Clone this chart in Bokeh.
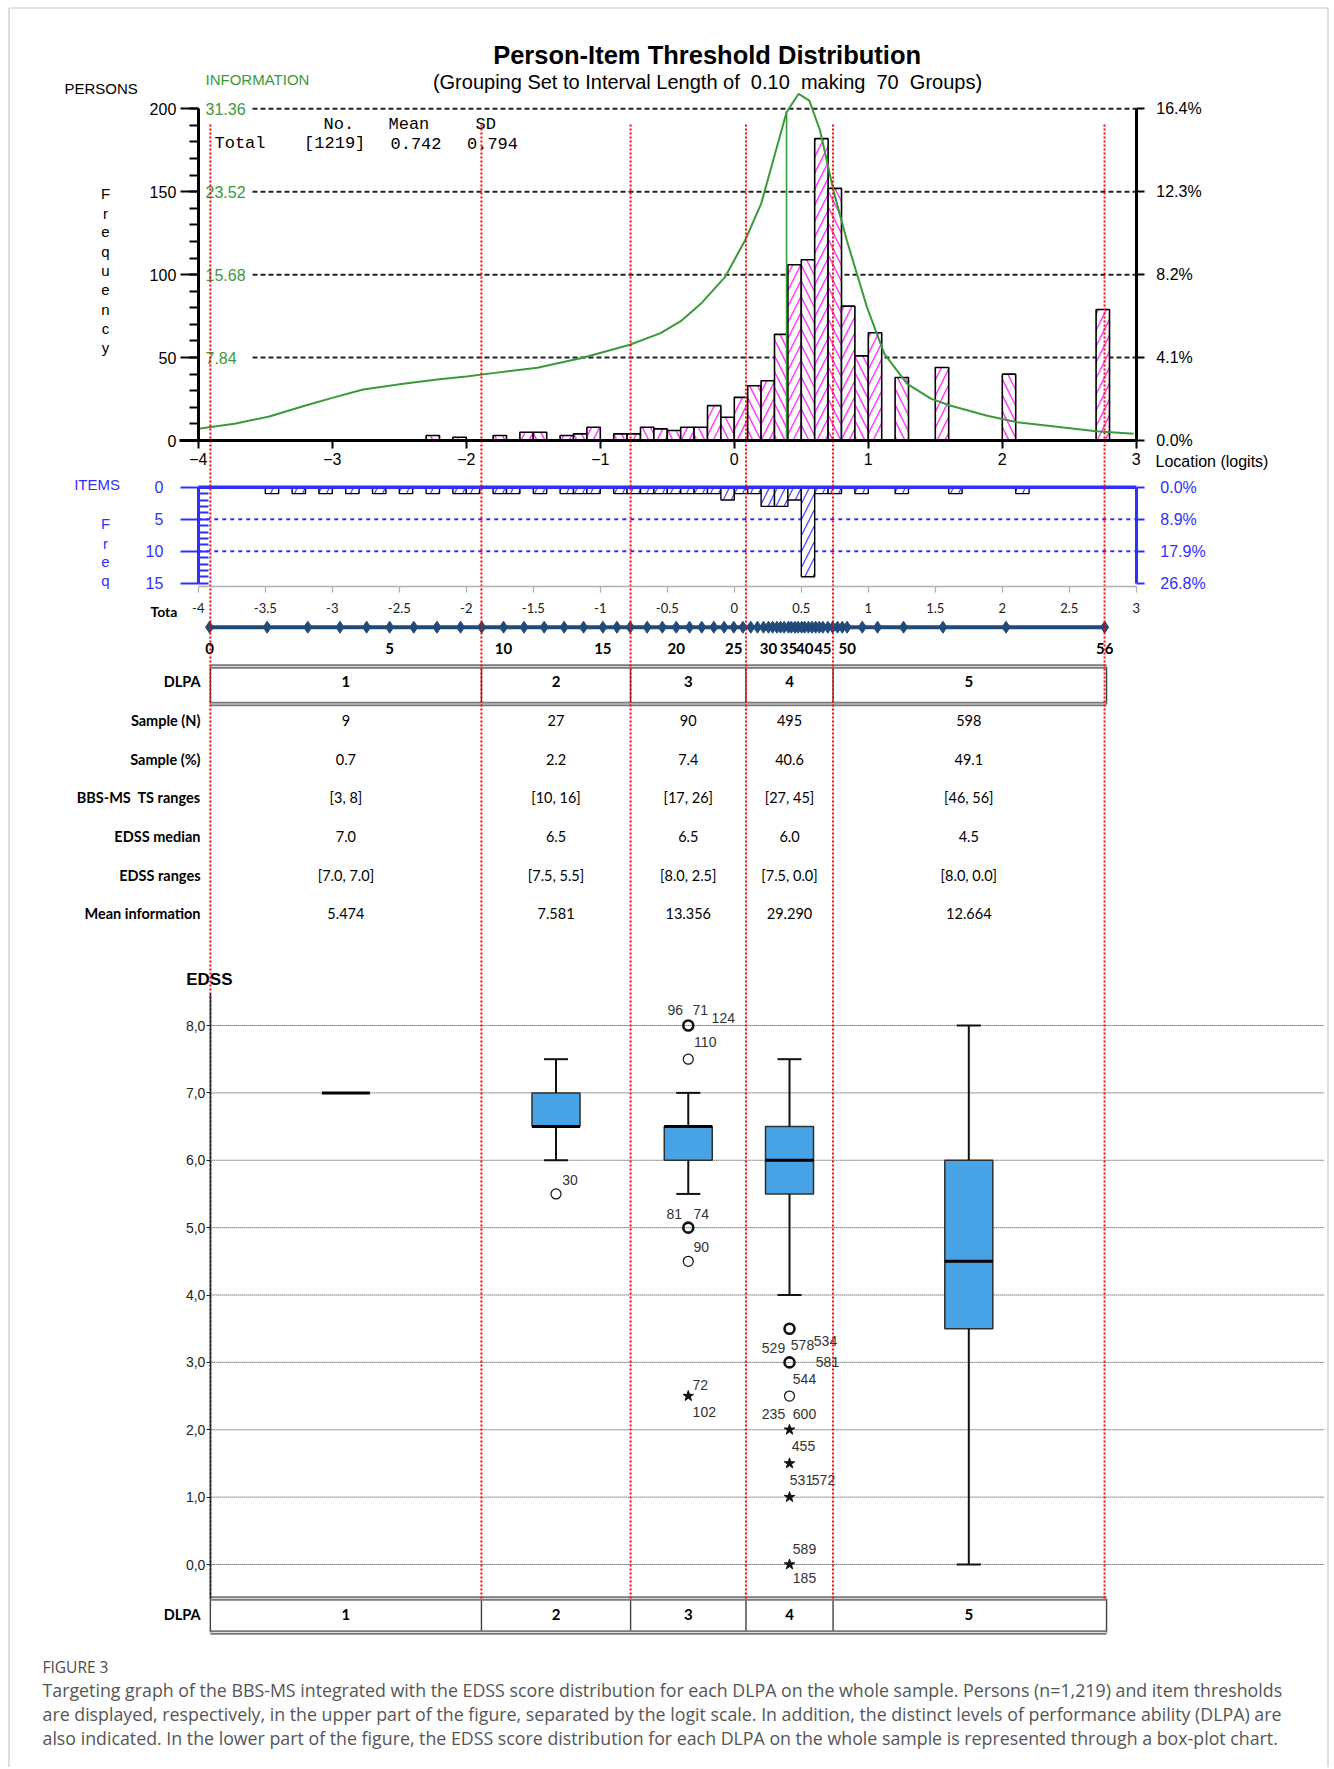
import numpy as np
from bokeh.plotting import figure
from bokeh.models import Range1d, LinearAxis, FixedTicker, NumeralTickFormatter, ColumnDataSource
from bokeh.core.properties import value
from bokeh.embed import file_html
from bokeh.resources import INLINE

# ====================== DATA ======================
n_persons = 1219
person_mean = 0.742
person_sd = 0.794
n_thresholds = 56
info_max = 31.36

# persons histogram (lower edge of 0.1-logit class, frequency)
person_bins = [-2.3, -2.1, -1.8, -1.6, -1.5, -1.3, -1.2, -1.1, -0.9, -0.8, -0.7, -0.6, -0.5, -0.4, -0.3,
               -0.2, -0.1, 0.0, 0.1, 0.2, 0.3, 0.4, 0.5, 0.6, 0.7, 0.8, 0.9, 1.0, 1.2, 1.5, 2.0, 2.7]
person_counts = [3, 2, 3, 5, 5, 3, 4, 8, 4, 4, 8, 7, 6, 8, 8,
                 21, 14, 26, 33, 36, 64, 106, 109, 182, 152, 81, 51, 65, 38, 44, 40, 79]

# test information function
info_x = [-4.0, -3.73, -3.47, -3.2, -3.0, -2.77, -2.47, -2.2, -2.0, -1.8, -1.47, -1.13, -0.78, -0.55, -0.40,
          -0.25, -0.07, 0.08, 0.2, 0.29, 0.39, 0.48, 0.56, 0.64, 0.74, 0.84, 0.99, 1.12, 1.29, 1.47,
          1.61, 1.88, 2.11, 2.44, 2.7, 2.98]
info_y = [1.10, 1.58, 2.27, 3.31, 4.03, 4.82, 5.36, 5.80, 6.05, 6.37, 6.87, 7.82, 9.05, 10.15, 11.28,
          12.92, 15.44, 18.91, 22.37, 26.47, 31.04, 32.78, 32.14, 29.31, 23.64, 18.91, 12.61, 8.19, 5.36, 3.94,
          3.31, 2.36, 1.73, 1.26, 0.88, 0.63]
info_marker_x = 0.39
info_marker_top = 31.0

# item thresholds histogram
item_bins = [-3.5, -3.3, -3.1, -2.9, -2.7, -2.5, -2.3, -2.1, -2.0, -1.8, -1.7, -1.5, -1.3, -1.2, -1.1,
             -0.9, -0.8, -0.7, -0.6, -0.5, -0.4, -0.3, -0.2, -0.1, 0.0, 0.1, 0.2, 0.3, 0.4, 0.5,
             0.6, 0.7, 0.9, 1.2, 1.6, 2.1]
item_counts = [1, 1, 1, 1, 1, 1, 1, 1, 1, 1, 1, 1, 1, 1, 1,
               1, 1, 1, 1, 1, 1, 1, 1, 2, 1, 1, 3, 3, 2, 14,
               1, 1, 1, 1, 1, 1]

# raw total score (0..56) -> logit location
raw_logit = [-3.916, -3.486, -3.183, -2.943, -2.744, -2.572, -2.392, -2.219, -2.043, -1.885,
             -1.722, -1.569, -1.419, -1.270, -1.125, -0.981, -0.876, -0.777, -0.650, -0.537,
             -0.433, -0.334, -0.243, -0.153, -0.076, -0.004, 0.064, 0.123, 0.173, 0.218,
             0.255, 0.286, 0.318, 0.345, 0.372, 0.404, 0.426, 0.453, 0.476, 0.503,
             0.525, 0.553, 0.580, 0.607, 0.634, 0.661, 0.698, 0.734, 0.770, 0.806,
             0.842, 0.955, 1.069, 1.263, 1.557, 2.028, 2.764]
raw_labels = [0, 5, 10, 15, 20, 25, 30, 35, 40, 45, 50, 56]
excel_ticks = [-4, -3.5, -3, -2.5, -2, -1.5, -1, -0.5, 0, 0.5, 1, 1.5, 2, 2.5, 3]

# DLPA
dlpa = ["1", "2", "3", "4", "5"]
dlpa_bounds = [-3.91, -1.887, -0.774, 0.087, 0.737, 2.763]
row_labels = ["Sample (N)", "Sample (%)", "BBS-MS  TS ranges", "EDSS median", "EDSS ranges", "Mean information"]
sample_n = ["9", "27", "90", "495", "598"]
sample_pct = ["0.7", "2.2", "7.4", "40.6", "49.1"]
ts_ranges = ["[3, 8]", "[10, 16]", "[17, 26]", "[27, 45]", "[46, 56]"]
edss_median_txt = ["7.0", "6.5", "6.5", "6.0", "4.5"]
edss_ranges = ["[7.0, 7.0]", "[7.5, 5.5]", "[8.0, 2.5]", "[7.5, 0.0]", "[8.0, 0.0]"]
mean_info = ["5.474", "7.581", "13.356", "29.290", "12.664"]

# EDSS box plots per DLPA
q1 = [7.0, 6.5, 6.0, 5.5, 3.5]
med = [7.0, 6.5, 6.5, 6.0, 4.5]
q3 = [7.0, 7.0, 6.5, 6.5, 6.0]
wlo = [7.0, 6.0, 5.5, 4.0, 0.0]
whi = [7.0, 7.5, 7.0, 7.5, 8.0]
out_group = [2, 3, 3, 3, 3, 4, 4, 4]
out_edss = [5.5, 8.0, 7.5, 5.0, 4.5, 3.5, 3.0, 2.5]
out_cases = [1, 3, 1, 2, 1, 2, 4, 1]
ext_group = [3, 4, 4, 4, 4]
ext_edss = [2.5, 2.0, 1.5, 1.0, 0.0]
lab_group = [2, 3, 3, 3, 3, 3, 3, 3, 3, 3, 4, 4, 4, 4, 4, 4, 4, 4, 4, 4, 4, 4]
lab_edss = [5.5, 8.0, 8.0, 8.0, 7.5, 5.0, 5.0, 4.5, 2.5, 2.5, 3.0, 3.0, 3.0, 3.0, 2.5, 2.0, 2.0, 1.5, 1.0, 1.0, 0.0, 0.0]
lab_text = ["30", "96", "71", "124", "110", "81", "74", "90", "72", "102",
            "529", "578", "534", "581", "544", "235", "600", "455", "531", "572", "589", "185"]
# label offsets (pixels) - layout only
lab_dx = [14, -13, 12, 35, 17, -14, 13, 13, 12, 16, -16, 13, 36, 38, 15, -16, 15, 14, 12, 34, 15, 15]
lab_dy = [-14, -16, -16, -8, -17, -14, -14, -14, -11, 16, -14, -17, -21, 0, -17, -16, -16, -17, -17, -17, -16, 13]

caption_title = "FIGURE 3"
caption_lines = [
    "Targeting graph of the BBS-MS integrated with the EDSS score distribution for each DLPA on the whole sample. Persons (n=1,219) and item thresholds",
    "are displayed, respectively, in the upper part of the figure, separated by the logit scale. In addition, the distinct levels of performance ability (DLPA) are",
    "also indicated. In the lower part of the figure, the EDSS score distribution for each DLPA on the whole sample is represented through a box-plot chart.",
]

# ====================== LAYOUT ======================
PAGE_L, PAGE_R, PAGE_T, PAGE_B = 0, 1332, 0, 1767
S = 134.0      # pixels per logit
X0 = 733.8     # page x of logit 0
NB = "\u00a0"


def lx(px):
    return (px - X0) / S


def yrange(v0, p0, v1, p1):
    k = (v1 - v0) / (p1 - p0)
    return Range1d(v0 + (PAGE_B - p0) * k, v0 + (PAGE_T - p0) * k)


p = figure(width=PAGE_R - PAGE_L, height=PAGE_B - PAGE_T,
           x_range=Range1d(lx(PAGE_L), lx(PAGE_R)), y_range=Range1d(PAGE_B, PAGE_T),
           x_axis_type=None, y_axis_type=None, toolbar_location=None, output_backend="svg",
           min_border=0, outline_line_color=None, background_fill_color="white",
           border_fill_color="white")
p.extra_x_ranges = {"px": Range1d(PAGE_L, PAGE_R)}
p.extra_y_ranges = {
    "freq": yrange(0, 440, 200, 108.3),
    "info": yrange(0, 440, info_max, 108.3),
    "items": yrange(0, 486.7, 10, 550.7),
    "edss": yrange(0, 1564, 8, 1025),
}

SANS = "Liberation Sans"
MONO = "Liberation Mono"
CAL = "Lato"
GREEN = "#3a9a3a"
BLUE = "#2f2fff"
RED = "#ff0000"


def txt(xs, ys, texts, size, color="black", font=SANS, style="normal", align="left",
        baseline="middle", xr="default", yr="default", **kw):
    src = ColumnDataSource(dict(x=list(xs), y=list(ys), text=list(texts)))
    p.text(x="x", y="y", text="text", source=src, text_font=value(font),
           text_font_size=value(f"{size}px"), text_font_style=style, text_color=color,
           text_align=align, text_baseline=baseline, x_range_name=xr, y_range_name=yr, **kw)


def style_axis(ax, color="black", size=16, font=SANS, lw=3):
    ax.axis_line_color = color
    ax.axis_line_width = lw
    ax.major_tick_line_color = color
    ax.minor_tick_line_color = color
    ax.major_tick_line_width = 2
    ax.minor_tick_line_width = 2
    ax.major_label_text_color = color
    ax.major_label_text_font = font
    ax.major_label_text_font_size = f"{size}px"
    ax.major_tick_in = 0
    ax.minor_tick_in = 0
    ax.minor_tick_out = 0


# outer frame of the figure panel
p.segment(x0=[8.5, 8.5, 1327.5], y0=[PAGE_B, 7.5, 7.5],
          x1=[8.5, 1327.5, 1327.5], y1=[7.5, 7.5, PAGE_B],
          x_range_name="px", line_color="#c8c8c8", line_width=1.2)

# ---------------- titles ----------------
txt([706.6], [54], ["Person-Item Threshold Distribution"], 25.5, style="bold", align="center", xr="px")
txt([707], [81], [f"(Grouping Set to Interval Length of{NB} 0.10{NB} making{NB} 70{NB} Groups)"], 20,
    align="center", xr="px")
txt([64], [88], ["PERSONS"], 15, xr="px")
txt([205], [79], ["INFORMATION"], 15, color=GREEN, xr="px")
txt([105] * 9, [193.3 + i * 19.2 for i in range(9)], list("Frequency"), 15, align="center", xr="px")

# ---------------- persons panel ----------------
grid_f = [50, 100, 150, 200]
p.segment(x0=[lx(252)] * 4, x1=[3] * 4, y0=grid_f, y1=grid_f, y_range_name="freq",
          line_color="#222222", line_width=2, line_dash="5 3")
txt([lx(205)] * 4, grid_f, [f"{f * info_max / 200:.2f}" for f in grid_f], 16, color=GREEN, yr="freq")

hp = ["\\" if i % 2 == 0 else "/" for i in range(len(person_bins))]
psrc = ColumnDataSource(dict(left=person_bins, right=[b + 0.1 for b in person_bins],
                             top=person_counts, hp=hp))
p.quad(left="left", right="right", bottom=0, top="top", source=psrc, y_range_name="freq",
       fill_color="white", line_color="black", line_width=1.6,
       hatch_pattern="hp", hatch_color="#ff40ff", hatch_scale=16, hatch_weight=1.5)

p.line(info_x, info_y, y_range_name="info", line_color=GREEN, line_width=2)
p.segment(x0=[info_marker_x], x1=[info_marker_x], y0=[0], y1=[info_marker_top], y_range_name="info",
          line_color=GREEN, line_width=1.6)

ax = LinearAxis(y_range_name="freq", fixed_location=-4, bounds=(0, 200),
                ticker=FixedTicker(ticks=[0, 50, 100, 150, 200], minor_ticks=list(range(0, 201, 10))))
style_axis(ax)
ax.major_tick_out = 18
ax.minor_tick_out = 9
ax.major_label_standoff = 4
p.add_layout(ax, "left")

axr = LinearAxis(y_range_name="freq", fixed_location=3, bounds=(0, 200),
                 ticker=FixedTicker(ticks=[0, 50, 100, 150, 200], minor_ticks=[]),
                 major_label_overrides={f: f"{f / n_persons * 100:.1f}%" for f in [0, 50, 100, 150, 200]})
style_axis(axr)
axr.major_tick_out = 8
axr.major_label_standoff = 12
p.add_layout(axr, "right")

axb = LinearAxis(y_range_name="freq", fixed_location=0, bounds=(lx(178.6), 3),
                 ticker=FixedTicker(ticks=list(range(-4, 4)), minor_ticks=[]))
style_axis(axb)
axb.major_tick_out = 8
axb.major_label_standoff = 4
p.add_layout(axb, "below")
txt([1155], [461], ["Location (logits)"], 16, xr="px")

# stats box
txt([323, 388, 475], [124] * 3, ["No.", "Mean", "SD"], 17, font=MONO, xr="px")
txt([214, 303.6, 390, 466.5], [142.7] * 4,
    ["Total", f"[{n_persons}]", f"{person_mean:.3f}", f"{person_sd:.3f}"], 17, font=MONO, xr="px")

# ---------------- items panel ----------------
txt([73.7], [484], ["ITEMS"], 15, color=BLUE, xr="px")
txt([105] * 4, [522.7, 542.7, 561.7, 580], list("Freq"), 15, color=BLUE, align="center", xr="px")
p.segment(x0=[-4, -4], x1=[3, 3], y0=[5, 10], y1=[5, 10], y_range_name="items",
          line_color=BLUE, line_width=2, line_dash="4 4")
isrc = ColumnDataSource(dict(left=item_bins, right=[b + 0.1 for b in item_bins], bottom=item_counts))
p.quad(left="left", right="right", top=0, bottom="bottom", source=isrc, y_range_name="items",
       fill_color="white", line_color="black", line_width=1.4,
       hatch_pattern="/", hatch_color="#4a4aff", hatch_scale=16, hatch_weight=1.3)
p.segment(x0=[-4], x1=[3], y0=[0], y1=[0], y_range_name="items", line_color=BLUE, line_width=3.5)

axi = LinearAxis(y_range_name="items", fixed_location=-4, bounds=(0, 15),
                 ticker=FixedTicker(ticks=[0, 5, 10, 15], minor_ticks=list(range(0, 16))))
style_axis(axi, color=BLUE)
axi.major_tick_out = 18
axi.minor_tick_in = 10
axi.major_label_standoff = 17
p.add_layout(axi, "left")

axir = LinearAxis(y_range_name="items", fixed_location=3, bounds=(0, 15),
                  ticker=FixedTicker(ticks=[0, 5, 10, 15], minor_ticks=[]),
                  major_label_overrides={v: f"{v / n_thresholds * 100:.1f}%" for v in [0, 5, 10, 15]})
style_axis(axir, color=BLUE)
axir.major_tick_out = 8
axir.major_label_standoff = 16
p.add_layout(axir, "right")

# ---------------- total score scale ----------------
axe = LinearAxis(fixed_location=586, bounds=(-4, 3),
                 ticker=FixedTicker(ticks=excel_ticks, minor_ticks=[]),
                 formatter=NumeralTickFormatter(format="0.[0]"))
style_axis(axe, color="#b0b0b0", size=13, font=CAL, lw=1.5)
axe.major_label_text_color = "#202020"
axe.major_tick_out = 6
axe.major_tick_line_width = 1.2
axe.major_label_standoff = 10
p.add_layout(axe, "below")
txt([150], [611], ["Tota"], 14, font=CAL, style="bold", xr="px")

yd = [626.7] * len(raw_logit)
p.line(raw_logit, yd, line_color="#1f4a7a", line_width=4)
p.scatter(raw_logit, yd, marker="diamond", size=12, fill_color="#1f4a7a", line_color="#1f4a7a")
txt([raw_logit[r] for r in raw_labels], [648] * len(raw_labels), [str(r) for r in raw_labels],
    15, font=CAL, style="bold", align="center")

# ---------------- DLPA table ----------------
centers = [(dlpa_bounds[i] + dlpa_bounds[i + 1]) / 2 for i in range(5)]
tl, tr = dlpa_bounds[0], dlpa_bounds[-1] + 2 / S


def double_line(y):
    p.segment(x0=[tl], x1=[tr], y0=[y], y1=[y], line_color="#7a7a7a", line_width=4.5)
    p.segment(x0=[tl], x1=[tr], y0=[y], y1=[y], line_color="#dcdcdc", line_width=1.2)


def table_box(ytop, ybot, ytext):
    p.segment(x0=dlpa_bounds[:-1] + [tr], x1=dlpa_bounds[:-1] + [tr], y0=[ytop] * 6, y1=[ybot] * 6,
              line_color="#404040", line_width=1.4)
    double_line(ytop)
    double_line(ybot)
    txt([200], [ytext], ["DLPA"], 14.5, font=CAL, style="bold", align="right", xr="px")
    txt(centers, [ytext] * 5, dlpa, 15, font=CAL, style="bold", align="center")


table_box(666, 703.5, 681)
row_y = [720, 759.3, 797.3, 836, 875, 913.3]
rows = [sample_n, sample_pct, ts_ranges, edss_median_txt, edss_ranges, mean_info]
for yv, lab, vals in zip(row_y, row_labels, rows):
    txt([200], [yv], [lab.replace("  ", NB + " ")], 14.5, font=CAL, style="bold", align="right", xr="px")
    txt(centers, [yv] * 5, vals, 14.5, font=CAL, align="center")

# ---------------- EDSS box plots ----------------
txt([185.7], [979], ["EDSS"], 17, style="bold", xr="px")
gl = list(range(0, 9))
p.segment(x0=[dlpa_bounds[0]] * 9, x1=[lx(1324)] * 9, y0=gl, y1=gl, y_range_name="edss",
          line_color="#3a3a3a", line_width=1, line_dash="1 1")

axy = LinearAxis(y_range_name="edss", fixed_location=dlpa_bounds[0], bounds=(-0.5, 8.47),
                 ticker=FixedTicker(ticks=gl, minor_ticks=[]),
                 major_label_overrides={v: f"{v:.1f}".replace(".", ",") for v in gl})
style_axis(axy, color="#222222", size=14, lw=1.5)
axy.major_tick_out = 4
axy.major_tick_line_width = 1
axy.major_label_standoff = 1
p.add_layout(axy, "left")

hw = 24 / S
cw = 12 / S
bx = [i for i in range(5) if q3[i] > q1[i]]
p.quad(left=[centers[i] - hw for i in bx], right=[centers[i] + hw for i in bx],
       bottom=[q1[i] for i in bx], top=[q3[i] for i in bx], y_range_name="edss",
       fill_color="#48a2e6", line_color="#303030", line_width=1.5)
wk = [i for i in range(5) if whi[i] > wlo[i]]
p.segment(x0=[centers[i] for i in wk] * 2, x1=[centers[i] for i in wk] * 2,
          y0=[q3[i] for i in wk] + [q1[i] for i in wk], y1=[whi[i] for i in wk] + [wlo[i] for i in wk],
          y_range_name="edss", line_color="#111111", line_width=2)
p.segment(x0=[centers[i] - cw for i in wk] * 2, x1=[centers[i] + cw for i in wk] * 2,
          y0=[whi[i] for i in wk] + [wlo[i] for i in wk], y1=[whi[i] for i in wk] + [wlo[i] for i in wk],
          y_range_name="edss", line_color="#111111", line_width=2)
p.segment(x0=[c - hw for c in centers], x1=[c + hw for c in centers], y0=med, y1=med,
          y_range_name="edss", line_color="#000000", line_width=3)

osrc = ColumnDataSource(dict(x=[centers[g - 1] for g in out_group], y=out_edss,
                             lw=[2.6 if c > 1 else 1.2 for c in out_cases]))
p.scatter(x="x", y="y", source=osrc, marker="circle", size=10, fill_color=None,
          line_color="#111111", line_width="lw", y_range_name="edss")
p.scatter([centers[g - 1] for g in ext_group], ext_edss, marker="star", size=11,
          fill_color="#111111", line_color="#111111", y_range_name="edss")
lsrc = ColumnDataSource(dict(x=[centers[g - 1] for g in lab_group], y=lab_edss, text=lab_text,
                             dx=lab_dx, dy=lab_dy))
p.text(x="x", y="y", text="text", x_offset="dx", y_offset="dy", source=lsrc, y_range_name="edss",
       text_font=value(SANS), text_font_size=value("14px"), text_color="#333333",
       text_align="center", text_baseline="middle")

table_box(1598, 1632, 1614.3)

# ---------------- red DLPA separators ----------------
p.segment(x0=dlpa_bounds, x1=dlpa_bounds, y0=[124] * 6, y1=[1598] * 6,
          line_color=RED, line_width=2, line_dash="2 2")

# ---------------- caption ----------------
txt([42], [1666], [caption_title], 15.5, color="#4d4d4d", font="Open Sans", xr="px")
txt([42] * 3, [1689.5, 1713, 1737], caption_lines, 17.8, color="#555555", font="Open Sans", xr="px")

open("out.html", "w").write(file_html(p, INLINE))
